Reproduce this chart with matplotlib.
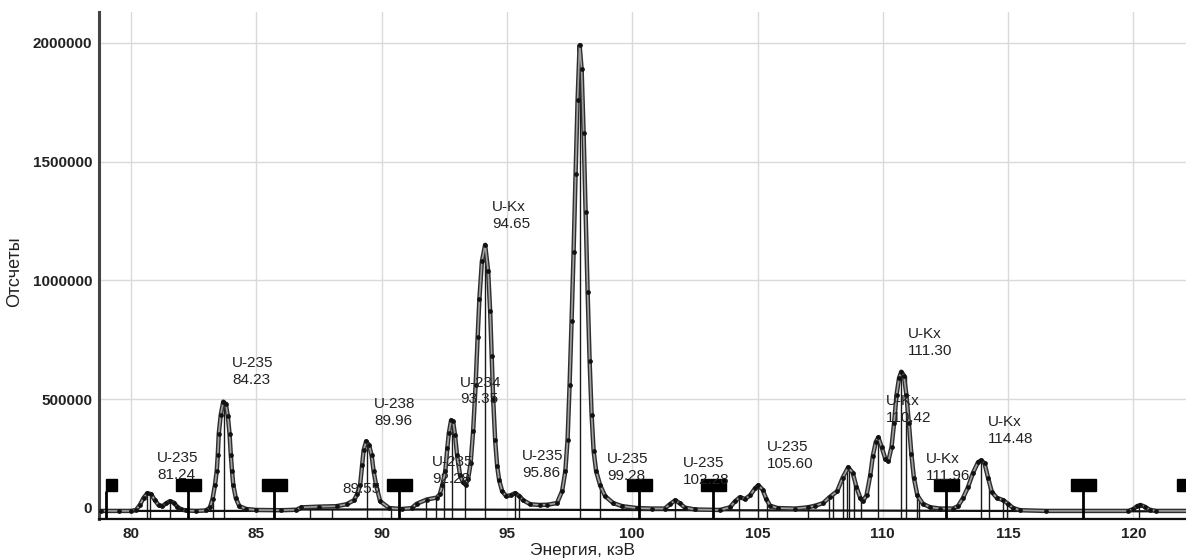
import matplotlib.pyplot as plt
import matplotlib.transforms as mtransforms
from matplotlib.patches import Rectangle

plt.rcParams['font.family'] = ['Liberation Sans', 'DejaVu Sans']

# ----- spectrum (energy, keV / counts) ----------------------------------------
energy = [78.8, 79.5, 80.0, 80.2, 80.35, 80.5, 80.65, 80.8, 80.95, 81.1, 81.25,
          81.4, 81.55, 81.7, 81.85, 82.0, 82.2, 82.6, 83.0, 83.15, 83.25, 83.35,
          83.42, 83.46, 83.5, 83.58, 83.68, 83.78, 83.86, 83.93, 83.98, 84.03,
          84.08, 84.18, 84.32, 84.6, 85.0, 86.0, 86.6, 86.8, 87.5, 88.2, 88.6,
          88.9, 89.02, 89.14, 89.22, 89.28, 89.38, 89.5, 89.6, 89.68, 89.78,
          89.94, 90.3, 90.8, 91.2, 91.4, 91.8, 92.2, 92.32, 92.42, 92.54, 92.62,
          92.68, 92.77, 92.85, 92.93, 93.01, 93.13, 93.25, 93.35, 93.45, 93.55,
          93.65, 93.75, 93.83, 93.9, 94.0, 94.13, 94.25, 94.33, 94.39, 94.45,
          94.53, 94.61, 94.69, 94.81, 94.97, 95.15, 95.33, 95.5, 95.65, 95.93,
          96.3, 96.61, 97.0, 97.2, 97.33, 97.42, 97.5, 97.58, 97.66, 97.74,
          97.82, 97.9, 97.98, 98.06, 98.14, 98.22, 98.3, 98.38, 98.46, 98.56,
          98.72, 98.92, 99.24, 99.6, 100.2, 100.8, 101.3, 101.5, 101.72, 101.9,
          102.1, 102.5, 103.5, 103.9, 104.1, 104.3, 104.5, 104.7, 104.9, 105.03,
          105.2, 105.35, 105.5, 105.8, 106.5, 107.0, 107.3, 107.62, 107.9, 108.18,
          108.4, 108.62, 108.8, 108.95, 109.1, 109.2, 109.35, 109.5, 109.6,
          109.72, 109.82, 109.95, 110.1, 110.22, 110.35, 110.45, 110.55, 110.65,
          110.74, 110.84, 110.94, 111.04, 111.14, 111.24, 111.38, 111.6, 111.9,
          112.3, 112.8, 113.0, 113.2, 113.4, 113.6, 113.8, 113.93, 114.06, 114.2,
          114.35, 114.55, 114.81, 115.0, 115.2, 115.49, 116.5, 119.8, 120.0,
          120.15, 120.28, 120.45, 120.65, 120.9, 122.2]
counts = [30000, 30000, 30000, 34000, 55000, 85000, 105000, 100000, 75000,
          54000, 50000, 62000, 71000, 65000, 47000, 36000, 32000, 30000, 32000,
          45000, 80000, 140000, 200000, 265000, 355000, 435000, 490000, 480000,
          430000, 355000, 265000, 197000, 138000, 84000, 50000, 38000, 34000,
          33000, 35000, 45000, 48000, 50000, 58000, 75000, 100000, 138000,
          222000, 285000, 323000, 306000, 264000, 197000, 138000, 71000, 42000,
          38000, 42000, 60000, 78000, 86000, 100000, 138000, 197000, 293000,
          356000, 411000, 407000, 348000, 264000, 180000, 150000, 140000,
          165000, 230000, 365000, 560000, 760000, 920000, 1080000, 1150000,
          1040000, 870000, 680000, 503000, 327000, 218000, 159000, 113000,
          92000, 96000, 105000, 92000, 75000, 58000, 55000, 56000, 63000,
          113000, 197000, 330000, 560000, 830000, 1120000, 1450000, 1760000,
          1990000, 1890000, 1620000, 1290000, 950000, 660000, 432000, 281000,
          197000, 138000, 92000, 63000, 50000, 42000, 40000, 40000, 58000,
          75000, 62000, 44000, 36000, 34000, 45000, 70000, 88000, 80000, 95000,
          125000, 138000, 120000, 80000, 52000, 42000, 40000, 45000, 52000,
          63000, 90000, 113000, 170000, 214000, 190000, 130000, 85000, 71000,
          95000, 180000, 260000, 320000, 340000, 300000, 250000, 239000,
          300000, 400000, 520000, 590000, 616000, 600000, 520000, 400000,
          270000, 170000, 95000, 60000, 45000, 40000, 40000, 50000, 84000,
          130000, 190000, 235000, 243000, 230000, 170000, 110000, 85000, 75000,
          60000, 42000, 33000, 30000, 30000, 38000, 50000, 55000, 48000, 35000,
          30000, 30000]

# continuum under the peaks
bg_energy = [78.8, 86.6, 86.8, 91.3, 91.4, 122.2]
bg_counts = [30000, 30000, 36000, 36000, 36000, 28000]

# peak marker lines (energy, top)
mark_energy = [80.64, 80.76, 81.56, 83.27, 83.72, 87.15, 88.02, 89.42, 90.38,
               91.78, 92.18, 92.5, 92.81, 93.33, 94.13, 95.33, 95.49, 97.92,
               98.72, 101.72, 104.27, 105.03, 105.39, 107.03, 107.86, 108.02,
               108.42, 108.58, 108.66, 108.86, 109.14, 109.82, 110.74, 110.94,
               111.38, 111.46, 113.93, 114.25, 114.81, 114.97, 120.22]
mark_top = [100000, 100000, 70000, 80000, 490000, 40000, 40000, 323000, 40000,
            75000, 85000, 180000, 411000, 134000, 1150000, 105000, 95000,
            2000000, 138000, 75000, 88000, 138000, 80000, 45000, 80000, 100000,
            180000, 214000, 214000, 150000, 71000, 340000, 616000, 600000,
            95000, 80000, 243000, 150000, 75000, 65000, 55000]

# ROI flags: stick energy and flag extent
roi_stick = [79.0, 82.28, 85.71, 90.70, 100.28, 103.23, 112.53, 118.0, 122.26]
roi_left = [79.0, 81.78, 85.21, 90.20, 99.78, 102.73, 112.03, 117.5, 121.76]
roi_right = [79.45, 82.78, 86.21, 91.20, 100.78, 103.73, 113.03, 118.5, 122.76]
roi_low, roi_high = 115000, 165000

# peak labels
lab_text = ["U-235\n81.24", "U-235\n84.23", "89.55", "U-238\n89.96",
            "U-235\n92.28", "U-234\n93.35", "U-Kx\n94.65", "U-235\n95.86",
            "U-235\n99.28", "U-235\n102.28", "U-235\n105.60", "U-Kx\n111.30",
            "U-Kx\n110.42", "U-Kx\n111.96", "U-Kx\n114.48"]
lab_x = [81.04, 84.03, 88.42, 89.70, 92.02, 93.13, 94.41, 95.61, 99.0, 102.04,
         105.39, 111.02, 110.14, 111.70, 114.21]
lab_y = [218000, 616000, 122000, 444000, 199000, 535000, 1273000, 226000,
         212000, 197000, 262000, 738000, 457000, 212000, 367000]


fig = plt.figure(figsize=(11.86, 5.59), dpi=100)
ax = fig.add_axes([99 / 1186, 1 - 519 / 559, 1 - 99 / 1186, 507 / 559])

ax.set_xlim(78.72, 122.1)
ax.set_ylim(-4000, 2130000)
ax.set_xticks(range(80, 121, 5))
ax.set_yticks([0, 500000, 1000000, 1500000, 2000000])
ax.set_yticklabels(["0", "500000", "1000000", "1500000", "2000000"])
ax.grid(True, color="#dadada", lw=1.0)
ax.set_axisbelow(True)
ax.tick_params(length=0, labelsize=11, colors="#222222")
ax.tick_params(axis="x", pad=6)
ax.tick_params(axis="y", pad=5)
for lab in ax.get_xticklabels() + ax.get_yticklabels():
    lab.set_fontweight("bold")

for side in ["top", "right"]:
    ax.spines[side].set_visible(False)
ax.spines["left"].set_color("#444444")
ax.spines["left"].set_linewidth(2.2)
ax.spines["bottom"].set_color("#111111")
ax.spines["bottom"].set_linewidth(1.6)

# the zero label sits a bit above the axis in the original
zero = ax.get_yticklabels()[0]
zero.set_transform(zero.get_transform()
                   + mtransforms.ScaledTranslation(0, 11 / 100, fig.dpi_scale_trans))

ax.vlines(mark_energy, 0, mark_top, color="#1a1a1a", lw=1.0, zorder=2)
ax.plot(bg_energy, bg_counts, color="#111111", lw=1.6, zorder=3)
ax.plot(energy, counts, color="#2e2e2e", lw=3.2, zorder=4)
ax.plot(energy, counts, color="#a0a0a0", lw=1.2, zorder=5)
ax.plot(energy, counts, ls="none", marker="o", ms=2.4, color="#111111", zorder=6)

for s, l, r in zip(roi_stick, roi_left, roi_right):
    ax.vlines(s, 0, roi_low, color="black", lw=2.0, zorder=7)
    ax.add_patch(Rectangle((l, roi_low), r - l, roi_high - roi_low,
                           color="black", zorder=7, clip_on=True))

for t, x, y in zip(lab_text, lab_x, lab_y):
    ax.text(x, y, t, ha="left", va="center", fontsize=11, color="#222222",
            linespacing=1.25, zorder=8)

fig.text(583 / 1186, 1 - 551 / 559, "Энергия, кэВ", ha="center", va="center",
         fontsize=12.5, color="#222222")
fig.text(15 / 1186, 1 - 272 / 559, "Отсчеты", ha="center", va="center",
         rotation=90, fontsize=13, color="#222222")

fig.savefig("out.png", dpi=100)
